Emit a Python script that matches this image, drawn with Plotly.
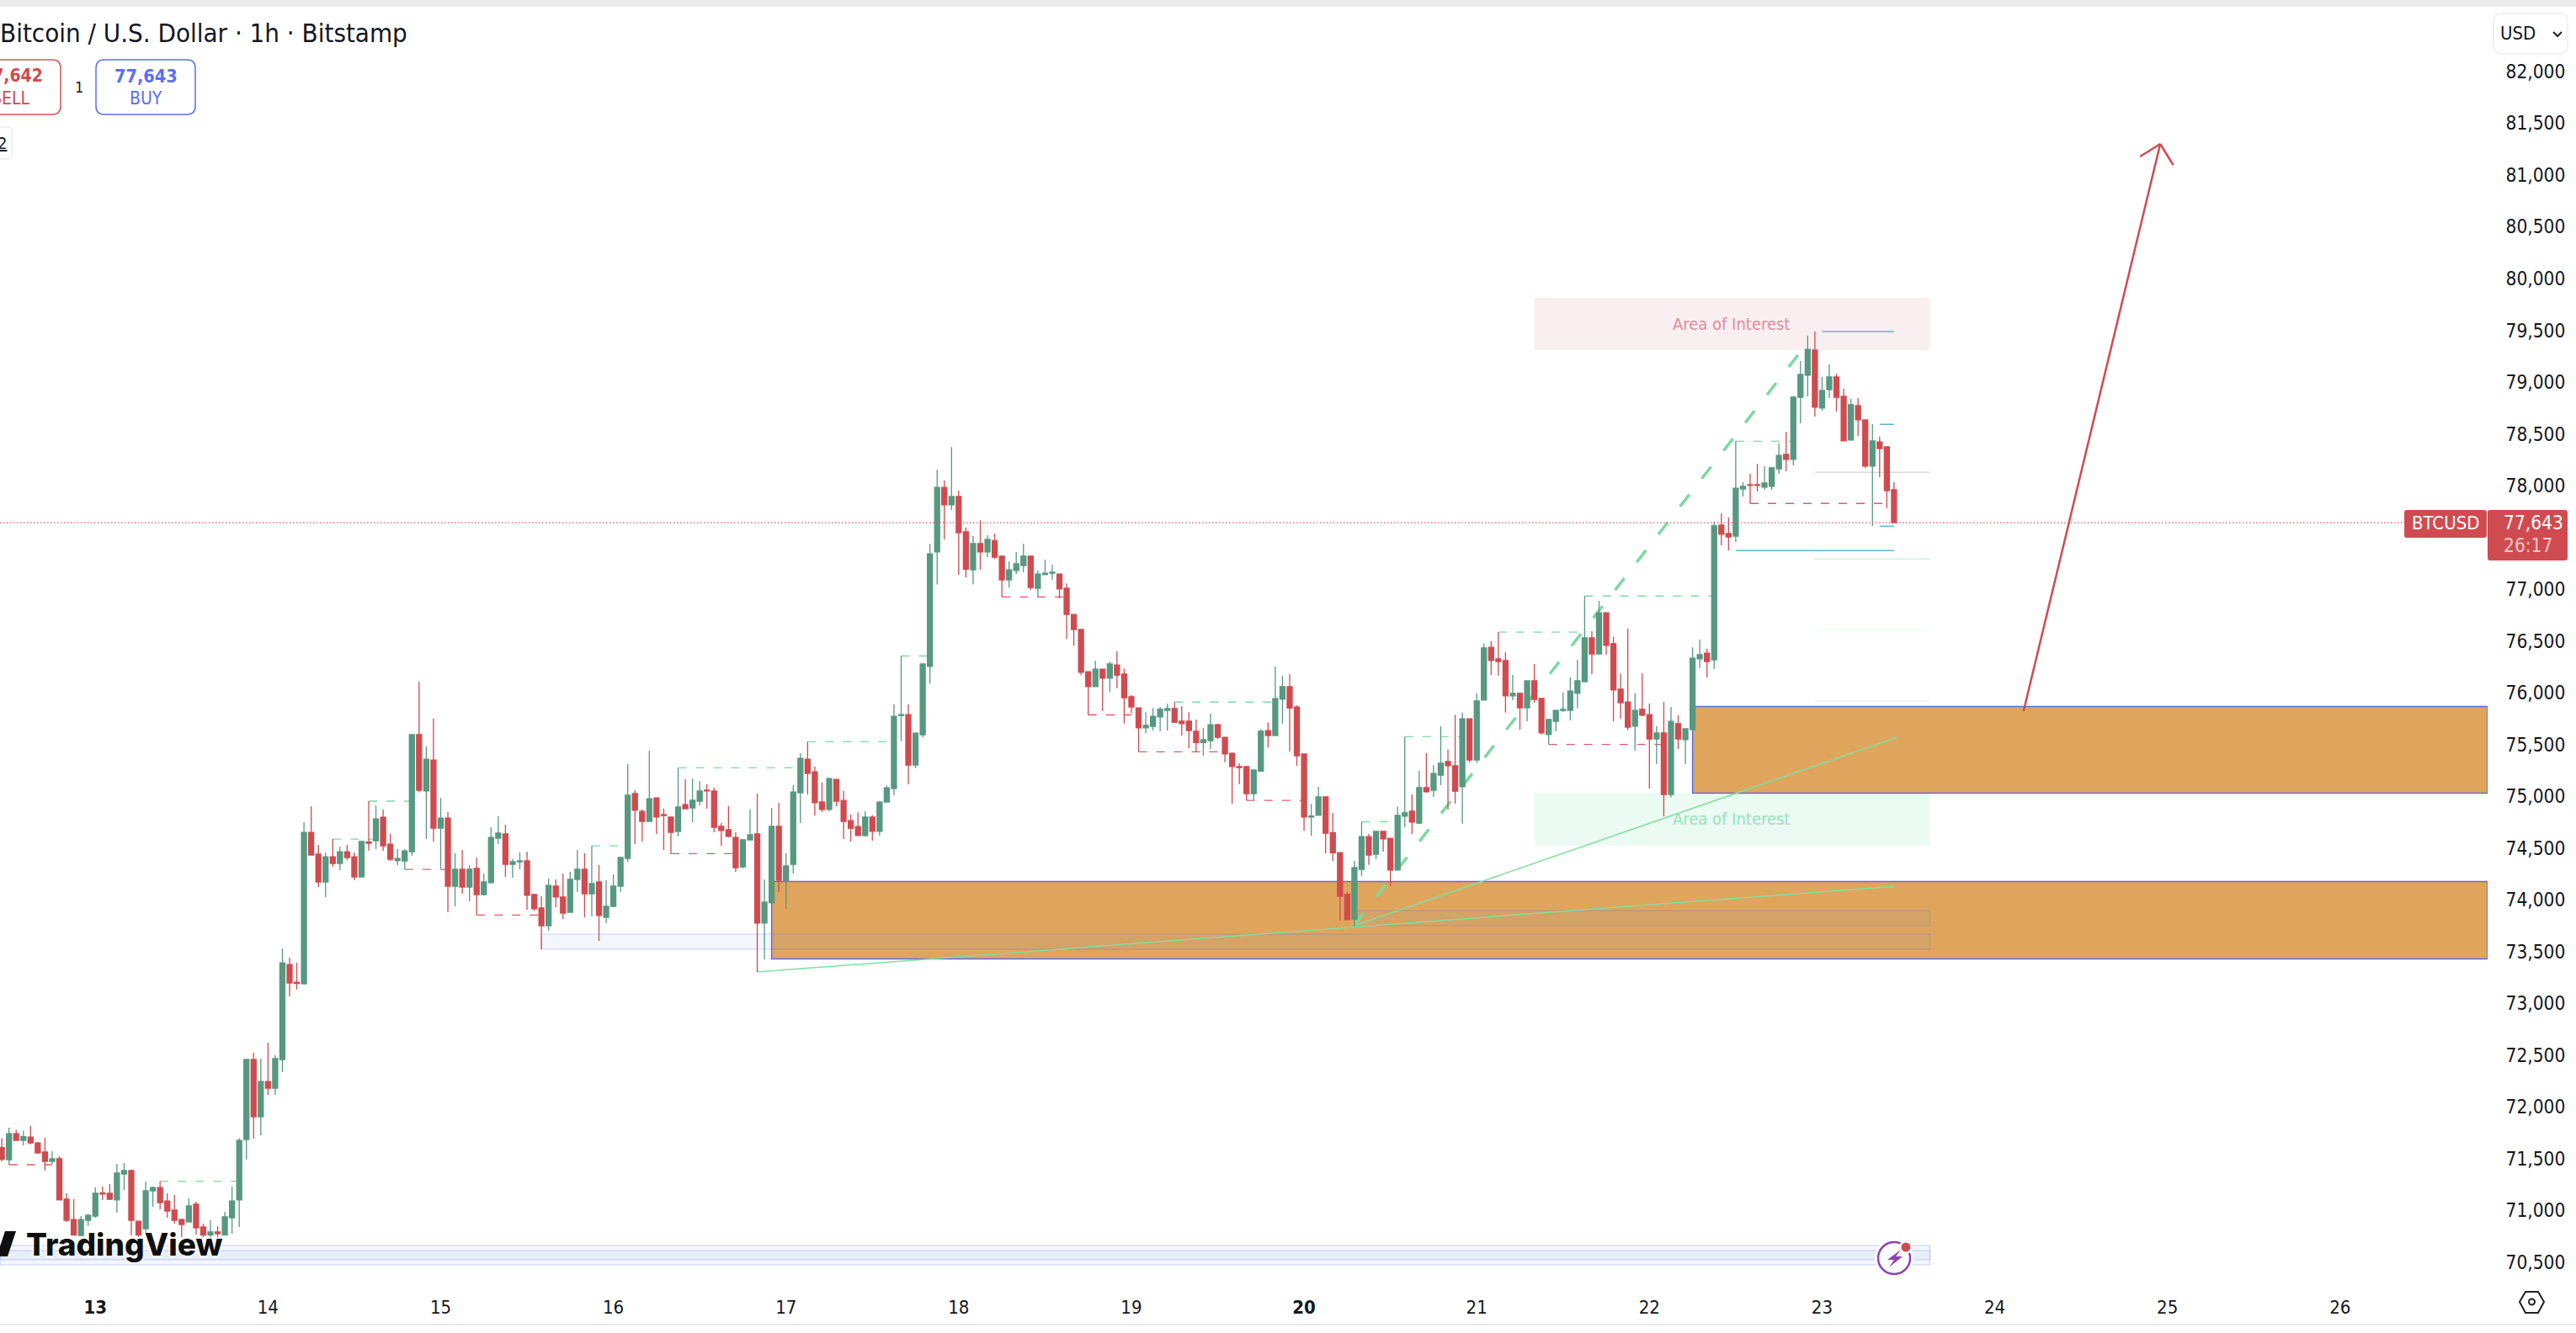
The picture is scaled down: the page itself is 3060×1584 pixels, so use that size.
import pandas as pd
import plotly.graph_objects as go

# Hourly BTCUSD candles, one character per candle: G closes up, R closes down
direction = (
    "RGRGRRRGRR" "RGGGRRGGRR" "GGRRRRGRRG" "RGGGGRGRGG" "RRGRRGRGRR" "GRGRRGGGRG"
    "RGRGRGRGGG" "RGGRRRGRRG" "GRGRGGGGRR" "GRRRGRGGRR" "RRRGGRGGRG" "GGRRRGRRRR"
    "GRGGGGRGGG" "GRGRRGRGRR" "GGGRGGGRRR" "RRGRGRRRRG" "GGGRRRRGGR" "RRRRGGRGGR"
    "RRGGRRRRGG" "RGRRGGRGRG" "GRRGRGGRRR" "GRGRRGGGGG" "GRGRRRRGRR" "GRGRGGGRGR"
    "RGGRRGGGRG" "GGRGGRRGRR" "GRRR"
)
wick_high = [
    71699, 71800, 71780, 71772, 71817, 71662, 71703, 71573, 71524, 71167,
    71110, 70947, 70967, 71223, 71232, 71256, 71451, 71459, 71394, 70898,
    71280, 71232, 71284, 71167, 71150, 70923, 71118, 71085, 70874, 70906,
    70850, 70988, 71232, 71699, 72459, 72524, 72467, 72621, 72499, 73531,
    73442, 73393, 74751, 74905, 74531, 74458, 74588, 74515, 74531, 74458,
    74572, 74954, 74913, 74872, 74637, 74490, 74490, 75596, 76108, 75482,
    75750, 74986, 74848, 74450, 74483, 74336, 74409, 74255, 74702, 74808,
    74726, 74393, 74458, 74466, 74060, 74036, 74206, 74198, 74255, 74271,
    74483, 74450, 74523, 74336, 74190, 74247, 74418, 75312, 75060, 74873,
    75442, 74986, 74881, 74800, 75276, 75165, 75173, 75149, 75117, 75084,
    74743, 74905, 74653, 74588, 74873, 75027, 74198, 74889, 74938, 74450,
    75108, 75417, 75528, 75287, 75133, 75182, 75165, 75053, 74823, 74847,
    74857, 74817, 74955, 75106, 75888, 76356, 75888, 75618, 76282, 77441,
    78155, 78051, 78374, 77953, 77596, 77515, 77667, 77522, 77539, 77320,
    77269, 77360, 77441, 77320, 77182, 77286, 77236, 77148, 77057, 76757,
    76612, 76205, 76309, 76228, 76302, 76400, 76235, 75979, 75854, 75814,
    75854, 75864, 75895, 75911, 75871, 75814, 75743, 75662, 75800, 75703,
    75571, 75426, 75319, 75295, 75255, 75649, 75713, 76255, 76164, 76181,
    75881, 75410, 74928, 75093, 74995, 74840, 74456, 74074, 74378, 74755,
    74637, 74662, 74662, 74596, 74904, 75576, 75019, 75246, 75417, 75302,
    75678, 75451, 75787, 75809, 75750, 75996, 76478, 76499, 76587, 76391,
    76173, 75996, 76117, 76279, 75946, 75744, 75831, 76002, 76148, 76319,
    76935, 76596, 76888, 76773, 76540, 76188, 76621, 75996, 76188, 75896,
    75678, 75912, 75865, 75784, 75653, 76440, 76515, 76425, 77653, 77734,
    77693, 78430, 78034, 78116, 78213, 78189, 78181, 78408, 78522, 78863,
    79205, 79449, 79489, 79050, 79172, 79083, 78936, 78839, 78847, 78636,
    78595, 78473, 78376, 78034,
]
body_top = [
    71609, 71743, 71743, 71715, 71711, 71654, 71565, 71500, 71500, 71110,
    70914, 70914, 70955, 71167, 71171, 71167, 71362, 71386, 71386, 70898,
    71191, 71223, 71223, 71093, 71004, 70914, 71045, 71061, 70842, 70793,
    70793, 70939, 71093, 71678, 72459, 72459, 72247, 72247, 72467, 73393,
    73377, 73206, 74653, 74653, 74442, 74417, 74417, 74466, 74466, 74417,
    74564, 74560, 74783, 74799, 74539, 74401, 74474, 75596, 75596, 75360,
    75352, 74791, 74791, 74296, 74296, 74296, 74304, 74174, 74604, 74645,
    74637, 74369, 74377, 74377, 74052, 73922, 74141, 74133, 74028, 74198,
    74296, 74296, 74158, 74174, 73938, 74133, 74410, 75011, 75027, 74856,
    74978, 74986, 74824, 74800, 74897, 74921, 74962, 75052, 75060, 75052,
    74710, 74678, 74604, 74580, 74629, 74637, 73979, 74710, 74710, 74328,
    75043, 75368, 75360, 75238, 74946, 75173, 75165, 74961, 74766, 74709,
    74800, 74800, 74945, 75083, 75773, 75790, 75790, 75612, 76279, 77343,
    77984, 77984, 77896, 77896, 77556, 77441, 77441, 77482, 77471, 77320,
    77188, 77246, 77320, 77320, 77148, 77155, 77165, 77148, 77010, 76757,
    76612, 76205, 76228, 76228, 76279, 76269, 76181, 75962, 75854, 75686,
    75773, 75841, 75848, 75848, 75726, 75726, 75629, 75548, 75693, 75693,
    75571, 75416, 75288, 75288, 75255, 75629, 75635, 75945, 76060, 76060,
    75864, 75410, 74810, 74995, 74995, 74651, 74456, 74052, 74313, 74612,
    74612, 74662, 74662, 74596, 74817, 74842, 74857, 75084, 75084, 75221,
    75321, 75336, 75296, 75750, 75750, 75921, 76434, 76440, 76328, 76313,
    75996, 75996, 76117, 76117, 75946, 75744, 75831, 75840, 76017, 76117,
    76531, 76531, 76773, 76773, 76475, 76036, 75912, 75831, 75840, 75790,
    75613, 75613, 75725, 75703, 75653, 76335, 76369, 76384, 77613, 77620,
    77539, 77977, 77994, 78010, 78010, 78026, 78173, 78294, 78303, 78855,
    79075, 79318, 79310, 78920, 79050, 79050, 78863, 78782, 78774, 78636,
    78433, 78424, 78376, 77961,
]
body_bottom = [
    71496, 71491, 71678, 71678, 71654, 71557, 71475, 71475, 71102, 70906,
    70764, 70760, 70906, 70947, 71159, 71110, 71102, 71353, 70906, 70764,
    70825, 71191, 71077, 70996, 70906, 70866, 70890, 70833, 70764, 70764,
    70776, 70764, 70931, 71102, 71687, 71906, 71906, 72182, 72182, 72459,
    73198, 73194, 73190, 74434, 74173, 74173, 74352, 74352, 74409, 74222,
    74222, 74547, 74572, 74523, 74393, 74381, 74377, 74466, 75059, 75052,
    74694, 74694, 74133, 74133, 74125, 74125, 74052, 74052, 74166, 74596,
    74344, 74344, 74369, 74044, 73914, 73751, 73751, 74028, 73873, 73881,
    74198, 74060, 74060, 73849, 73832, 73938, 74133, 74401, 74865, 74759,
    74759, 74800, 74816, 74653, 74661, 74881, 74889, 74954, 75052, 74702,
    74670, 74613, 74312, 74320, 74580, 73776, 73776, 73971, 74190, 74179,
    74344, 75035, 75222, 74938, 74873, 74873, 74954, 74759, 74692, 74621,
    74621, 74662, 74662, 74945, 75076, 75780, 75302, 75302, 75595, 76255,
    77360, 77815, 77815, 77546, 77195, 77188, 77360, 77360, 77310, 77091,
    77091, 77182, 77229, 77017, 77010, 77141, 77155, 77003, 76757, 76612,
    76198, 76060, 76060, 76141, 76141, 76171, 75952, 75864, 75662, 75662,
    75676, 75767, 75831, 75716, 75703, 75635, 75521, 75521, 75538, 75571,
    75410, 75288, 75278, 75026, 75026, 75244, 75588, 75588, 75938, 75854,
    75393, 74800, 74800, 74817, 74645, 74456, 74035, 73809, 73815, 74295,
    74434, 74441, 74590, 74288, 74288, 74808, 74752, 74742, 75044, 75059,
    75206, 75296, 75050, 75094, 75352, 75352, 75930, 76313, 76303, 75971,
    75971, 75856, 75856, 75937, 75613, 75598, 75725, 75831, 75831, 75996,
    76108, 76375, 76375, 76459, 76027, 75905, 75669, 75678, 75784, 75554,
    75554, 75019, 75019, 75554, 75548, 75644, 76328, 76303, 76319, 77531,
    77506, 77514, 77969, 78002, 78002, 77986, 77994, 78164, 78254, 78254,
    78855, 79067, 78758, 78750, 78928, 78855, 78433, 78441, 78636, 78189,
    78189, 78359, 77953, 77643,
]
wick_low = [
    71475, 71443, 71678, 71630, 71638, 71549, 71386, 71451, 71102, 70890,
    70760, 70752, 70850, 70931, 71102, 71102, 70980, 71199, 70760, 70744,
    70785, 71036, 71012, 70931, 70874, 70744, 70890, 70768, 70744, 70724,
    70736, 70760, 70776, 70841, 71491, 71695, 71727, 72117, 72117, 72337,
    73068, 73133, 73190, 74434, 74125, 74027, 74320, 74287, 74385, 74190,
    74222, 74474, 74490, 74474, 74377, 74336, 74295, 74425, 75040, 74591,
    74564, 74304, 73881, 73938, 74060, 73987, 73854, 74044, 74158, 74540,
    74223, 74214, 74296, 73906, 73897, 73521, 73702, 73930, 73816, 73881,
    74076, 73832, 73840, 73605, 73776, 73930, 74076, 74369, 74540, 74564,
    74759, 74637, 74483, 74447, 74613, 74881, 74751, 74913, 74881, 74653,
    74523, 74604, 74271, 74304, 74580, 73304, 73426, 73971, 74076, 73914,
    74255, 74743, 75019, 74816, 74848, 74856, 74905, 74588, 74564, 74621,
    74611, 74571, 74621, 74945, 75012, 75534, 75116, 75271, 75568, 76090,
    77047, 77482, 77765, 77141, 77114, 77047, 77188, 77310, 77293, 76926,
    77017, 77148, 77165, 76993, 76926, 77141, 77091, 76912, 76521, 76454,
    76171, 75787, 76060, 75824, 76009, 76043, 75703, 75804, 75430, 75612,
    75635, 75629, 75635, 75716, 75588, 75467, 75430, 75393, 75457, 75554,
    75329, 74928, 75116, 74961, 74968, 75244, 75474, 75588, 75703, 75433,
    75295, 74668, 74621, 74817, 74449, 74375, 73799, 73803, 73741, 74232,
    74338, 74394, 74465, 74136, 74288, 74702, 74637, 74730, 75035, 74994,
    75109, 74873, 74929, 74736, 75327, 75321, 75930, 76173, 76164, 75809,
    75930, 75644, 75725, 75905, 75598, 75501, 75629, 75815, 75734, 75849,
    76108, 76182, 76375, 76369, 75725, 75750, 75638, 75442, 75775, 75075,
    75311, 74808, 74991, 75458, 75311, 75644, 76238, 76148, 76229, 77425,
    77376, 77457, 77896, 77829, 77945, 77961, 77961, 78116, 78140, 78197,
    78603, 78863, 78668, 78725, 78847, 78717, 78433, 78441, 78481, 78173,
    77612, 78083, 77782, 77643,
]
last_price = 77643

# Price axis and date axis
price_ticks = [82000, 81500, 81000, 80500, 80000, 79500, 79000, 78500, 78000, 77000,
               76500, 76000, 75500, 75000, 74500, 74000, 73500, 73000, 72500, 72000,
               71500, 71000, 70500]
day_ticks = ["2026-04-13", "2026-04-14", "2026-04-15", "2026-04-16", "2026-04-17",
             "2026-04-18", "2026-04-19", "2026-04-20", "2026-04-21", "2026-04-22",
             "2026-04-23", "2026-04-24", "2026-04-25", "2026-04-26"]
day_labels = ["<b>13</b>", "14", "15", "16", "17", "18", "19", "<b>20</b>", "21", "22",
              "23", "24", "25", "26"]
view_start, view_end = "2026-04-12 10:45", "2026-04-26 20:30"
price_low, price_high = 70289, 82626

# Supply, demand and interest zones (time from, time to, price low, price high)
demand_zones = [("2026-04-16 22:00", 73430, 74178), ("2026-04-22 06:00", 75031, 75868)]
zone_end = "2026-04-23 15:00"
interest_upper = (79310, 79814)
interest_lower = (74527, 75027)
interest_start = "2026-04-21 08:00"
interest_label_time = "2026-04-22 11:20"
interest_label_prices = (79562, 74783)
imbalance_boxes = [("2026-04-20 07:00", 73751, 73897), ("2026-04-15 14:00", 73524, 73670)]
band_boxes = [(70525, 70663), (70476, 70614)]

# Broken highs and lows: first candle, last candle, level
high_levels = [(23, 34, 71284), (47, 53, 74588), (52, 58, 74954), (83, 87, 74523),
               (95, 112, 75276), (113, 125, 75528), (126, 130, 76356), (164, 178, 75911),
               (190, 194, 74755), (196, 204, 75576), (209, 221, 76587), (221, 239, 76935),
               (242, 250, 78430)]
low_levels = [(2, 8, 71443), (57, 63, 74295), (67, 76, 73854), (94, 103, 74447),
              (140, 149, 76926), (152, 158, 75787), (159, 170, 75430), (174, 182, 74961),
              (216, 232, 75501), (244, 263, 77829)]
session_levels = [(254, 264, 79489), (262, 264, 78593), (262, 264, 77609), (242, 264, 77373)]
fade_start = "2026-04-22 23:00"
fade_levels = [(78129, "#DCDCDE"), (77292, "#C9F5D9"), (76612, "#EEFBF2"), (75921, "#F0F0F0")]

# Trend lines and the projected move
up_channel = [("2026-04-20 07:00", 73759), ("2026-04-22 22:00", 79383)]
trend_a = [("2026-04-16 20:00", 73304), ("2026-04-23 10:00", 74131)]
trend_b = [("2026-04-20 07:00", 73751), ("2026-04-23 10:30", 75572)]
arrow_shaft = [("2026-04-24 04:00", 75823), ("2026-04-24 23:00", 81301)]
arrow_wings = [("2026-04-24 20:12", 81179), ("2026-04-25 00:48", 81098)]

UP = "#579881"
DOWN = "#D04B50"
FONT = "DejaVu Sans Condensed"
PLOT_W, PLOT_TOP, PLOT_BOTTOM = 2955, 8, 1526

times = pd.date_range("2026-04-12 11:00", periods=len(direction), freq="h")
stamps = times.strftime("%Y-%m-%d %H:%M").tolist()
opens = [b if d == "G" else t for d, t, b in zip(direction, body_top, body_bottom)]
closes = [t if d == "G" else b for d, t, b in zip(direction, body_top, body_bottom)]


def px(x):
    return x / PLOT_W


def py(y):
    return 1 - (y - PLOT_TOP) / (PLOT_BOTTOM - PLOT_TOP)


def rounded(x0, y0, x1, y1, r):
    """Rounded rectangle as an SVG path in paper coordinates."""
    p = lambda x, y: f"{px(x):.6f},{py(y):.6f}"
    return (f"M{p(x0 + r, y0)} L{p(x1 - r, y0)} Q{p(x1, y0)} {p(x1, y0 + r)} "
            f"L{p(x1, y1 - r)} Q{p(x1, y1)} {p(x1 - r, y1)} L{p(x0 + r, y1)} "
            f"Q{p(x0, y1)} {p(x0, y1 - r)} L{p(x0, y0 + r)} Q{p(x0, y0)} {p(x0 + r, y0)} Z")


def polygon(points, close=True):
    body = " L".join(f"{px(x):.6f},{py(y):.6f}" for x, y in points)
    return "M" + body + (" Z" if close else "")


shapes = []


def data_rect(x0, x1, y0, y1, fill, line=None, width=1, layer="below"):
    shapes.append(dict(type="rect", xref="x", yref="y", x0=x0, x1=x1, y0=y0, y1=y1,
                       fillcolor=fill, layer=layer,
                       line=dict(color=line or "rgba(0,0,0,0)", width=width if line else 0)))


def data_line(a, b, color, width=1, dash="solid", layer="below"):
    shapes.append(dict(type="line", xref="x", yref="y", x0=a[0], y0=a[1], x1=b[0], y1=b[1],
                       layer=layer, line=dict(color=color, width=width, dash=dash)))


def chrome(path, fill="rgba(0,0,0,0)", line=None, width=1):
    shapes.append(dict(type="path", xref="paper", yref="paper", path=path, fillcolor=fill,
                       layer="above",
                       line=dict(color=line or "rgba(0,0,0,0)", width=width if line else 0)))


def chrome_circle(cx, cy, r, fill="rgba(0,0,0,0)", line=None, width=1):
    shapes.append(dict(type="circle", xref="paper", yref="paper", layer="above",
                       x0=px(cx - r), x1=px(cx + r), y0=py(cy + r), y1=py(cy - r),
                       fillcolor=fill,
                       line=dict(color=line or "rgba(0,0,0,0)", width=width if line else 0)))


# Zones sit under the candles
data_rect(interest_start, zone_end, *interest_upper, "#F9EEF0")
data_rect(interest_start, zone_end, *interest_lower, "#EBFAF3")
for start, low, high in demand_zones:
    data_rect(start, view_end, low, high, "#E0A55C", "#5A6CF0", 1.5)
for start, low, high in imbalance_boxes:
    data_rect(start, zone_end, low, high, "rgba(105,142,230,0.08)", "rgba(90,110,240,0.3)", 1)
for low, high in band_boxes:
    data_rect(view_start, zone_end, low, high, "rgba(105,142,230,0.08)", "rgba(90,110,240,0.3)", 1)

# Broken levels start at the wick that made them
for first, last, level in high_levels:
    data_line((stamps[first - 1], level), (stamps[last - 1], level), "#7FD9A0", 1.3, "10px,11px")
for first, last, level in low_levels:
    data_line((stamps[first - 1], level), (stamps[last - 1], level), "#DB5A6C", 1.3, "10px,11px")
for first, last, level in session_levels:
    data_line((stamps[first - 1], level), (stamps[last - 1], level), "#62B4CF", 1.5)
for level, color in fade_levels:
    data_line((fade_start, level), (zone_end, level), color, 1.5)

data_line(*trend_a, "#82DE9F", 1.5)
data_line(*trend_b, "#82DE9F", 1.5)
data_line(*up_channel, "#7DD89F", 3.5, "18px,24px")
data_line((view_start, last_price), (view_end, last_price), "#E0566B", 1.2, "1.5px,2.5px", layer="above")

# Projected move
data_line(*arrow_shaft, DOWN, 2.5, layer="above")
data_line(arrow_wings[0], arrow_shaft[1], DOWN, 2.5, layer="above")
data_line(arrow_wings[1], arrow_shaft[1], DOWN, 2.5, layer="above")

# Panel frame
shapes.append(dict(type="rect", xref="paper", yref="paper", x0=px(0), x1=px(3060),
                   y0=py(8), y1=py(0), fillcolor="#EBEBEB", layer="above", line=dict(width=0)))
shapes.append(dict(type="rect", xref="paper", yref="paper", x0=px(0), x1=px(3060),
                   y0=py(1575), y1=py(1573), fillcolor="#E8E8E8", layer="above", line=dict(width=0)))

# Order ticket, currency button and price tags
chrome(rounded(-20, 71, 72, 136, 10), "#FFFFFF", "#D9535A", 1.5)
chrome(rounded(114, 71, 232, 136, 10), "#FFFFFF", "#5A6FF0", 1.5)
chrome(rounded(-20, 151, 14, 189, 5), "#FFFFFF", "#E3E3E3", 1)
chrome(rounded(2962, 16, 3050, 64, 10), "#FFFFFF", "#EEEEEE", 1.5)
chrome(polygon([(3033, 38), (3038, 43), (3043, 38)], close=False), line="#222222", width=2)
chrome(rounded(2856, 606, 2954, 639, 3), DOWN)
chrome(rounded(2955, 606, 3050, 666, 3), DOWN)

# Lightning badge
chrome_circle(2250, 1495, 23, "#FFFFFF")
chrome_circle(2250, 1495, 19, "#FFFFFF", "#8E3FB4", 2.5)
chrome(polygon([(2258, 1485), (2242, 1497), (2250, 1497), (2244, 1506), (2260, 1493), (2252, 1493)]),
       "#8E3FB4")
chrome_circle(2264, 1482, 8, "#FFFFFF")
chrome_circle(2264, 1482, 5.5, DOWN)

# Settings icon
chrome(polygon([(2993, 1547), (3000, 1535), (3015, 1535), (3022, 1547), (3015, 1560), (3000, 1560)]),
       line="#222222", width=2)
chrome_circle(3007.5, 1547, 3.5, line="#222222", width=2)

# Logo mark
chrome(polygon([(6, 1463), (19, 1463), (9, 1493), (0, 1493), (0, 1481)]), "#0F0F0F")


def label(x, y, text, size=22, color="#131722", anchor="left", **extra):
    font = dict(family=extra.pop("family", FONT), size=size, color=color)
    for key in ("shadow", "weight"):
        if key in extra:
            font[key] = extra.pop(key)
    return dict(xref="paper", yref=extra.pop("yref", "paper"), x=px(x),
                y=extra.pop("yval", py(y)), text=text, showarrow=False, xanchor=anchor,
                yanchor="middle", font=font, align=anchor, borderpad=0, **extra)


annotations = [
    label(-1, 39, "Bitcoin / U.S. Dollar · 1h · Bitstamp", 31),
    label(52, 90, "<b>77,642</b>", 21, "#D04B50", "right"),
    label(36, 117, "SELL", 21, "#D04B50", "right"),
    label(94, 103, "1", 18, "#131722", "center"),
    label(173, 90, "<b>77,643</b>", 21.5, "#5A6FF0", "center"),
    label(173, 117, "BUY", 21, "#5A6FF0", "center"),
    label(9, 170, "<u>2</u>", 20, "#131722", "right"),
    label(2969, 40, "USD", 22),
    label(2905, 622, "BTCUSD", 22, "#FFFFFF", "center", yref="y", yval=last_price),
    label(2973, 622, "77,643", 22.5, "#FFFFFF", yref="y", yval=last_price),
    label(2973, 648, "26:17", 22.5, "#F2C9CB"),
    label(30, 1478, "TradingView", 37, "#0F0F0F", family="Inter", weight=800,
          shadow="0 0 4px #FFFFFF, 0 0 4px #FFFFFF"),
    dict(xref="x", yref="y", x=interest_label_time, y=interest_label_prices[0],
         text="Area of Interest", showarrow=False,
         font=dict(family=FONT, size=20, color="#E28C9C")),
    dict(xref="x", yref="y", x=interest_label_time, y=interest_label_prices[1],
         text="Area of Interest", showarrow=False,
         font=dict(family=FONT, size=20, color="#96E2BC")),
]

fig = go.Figure(go.Candlestick(
    x=stamps, open=opens, high=wick_high, low=wick_low, close=closes,
    increasing=dict(line=dict(color=UP, width=1.3), fillcolor=UP),
    decreasing=dict(line=dict(color=DOWN, width=1.3), fillcolor=DOWN),
    hoverinfo="skip", showlegend=False,
))
fig.update_layout(
    width=3060, height=1584, margin=dict(l=0, r=105, t=8, b=58),
    paper_bgcolor="#FFFFFF", plot_bgcolor="#FFFFFF", showlegend=False,
    boxgap=0.3, boxgroupgap=0, boxmode="overlay", shapes=shapes, annotations=annotations,
    xaxis=dict(type="date", range=[view_start, view_end], rangeslider=dict(visible=False),
               showgrid=False, zeroline=False, showline=False,
               tickmode="array", tickvals=day_ticks, ticktext=day_labels,
               ticks="outside", ticklen=8, tickcolor="rgba(0,0,0,0)",
               tickfont=dict(family=FONT, size=22, color="#131722")),
    yaxis=dict(side="right", range=[price_low, price_high], showgrid=False, zeroline=False,
               showline=False, tickmode="array", tickvals=price_ticks, tickformat=",",
               ticks="outside", ticklen=16, tickcolor="rgba(0,0,0,0)",
               tickfont=dict(family=FONT, size=22.5, color="#131722")),
)
fig.write_html("out.html")
